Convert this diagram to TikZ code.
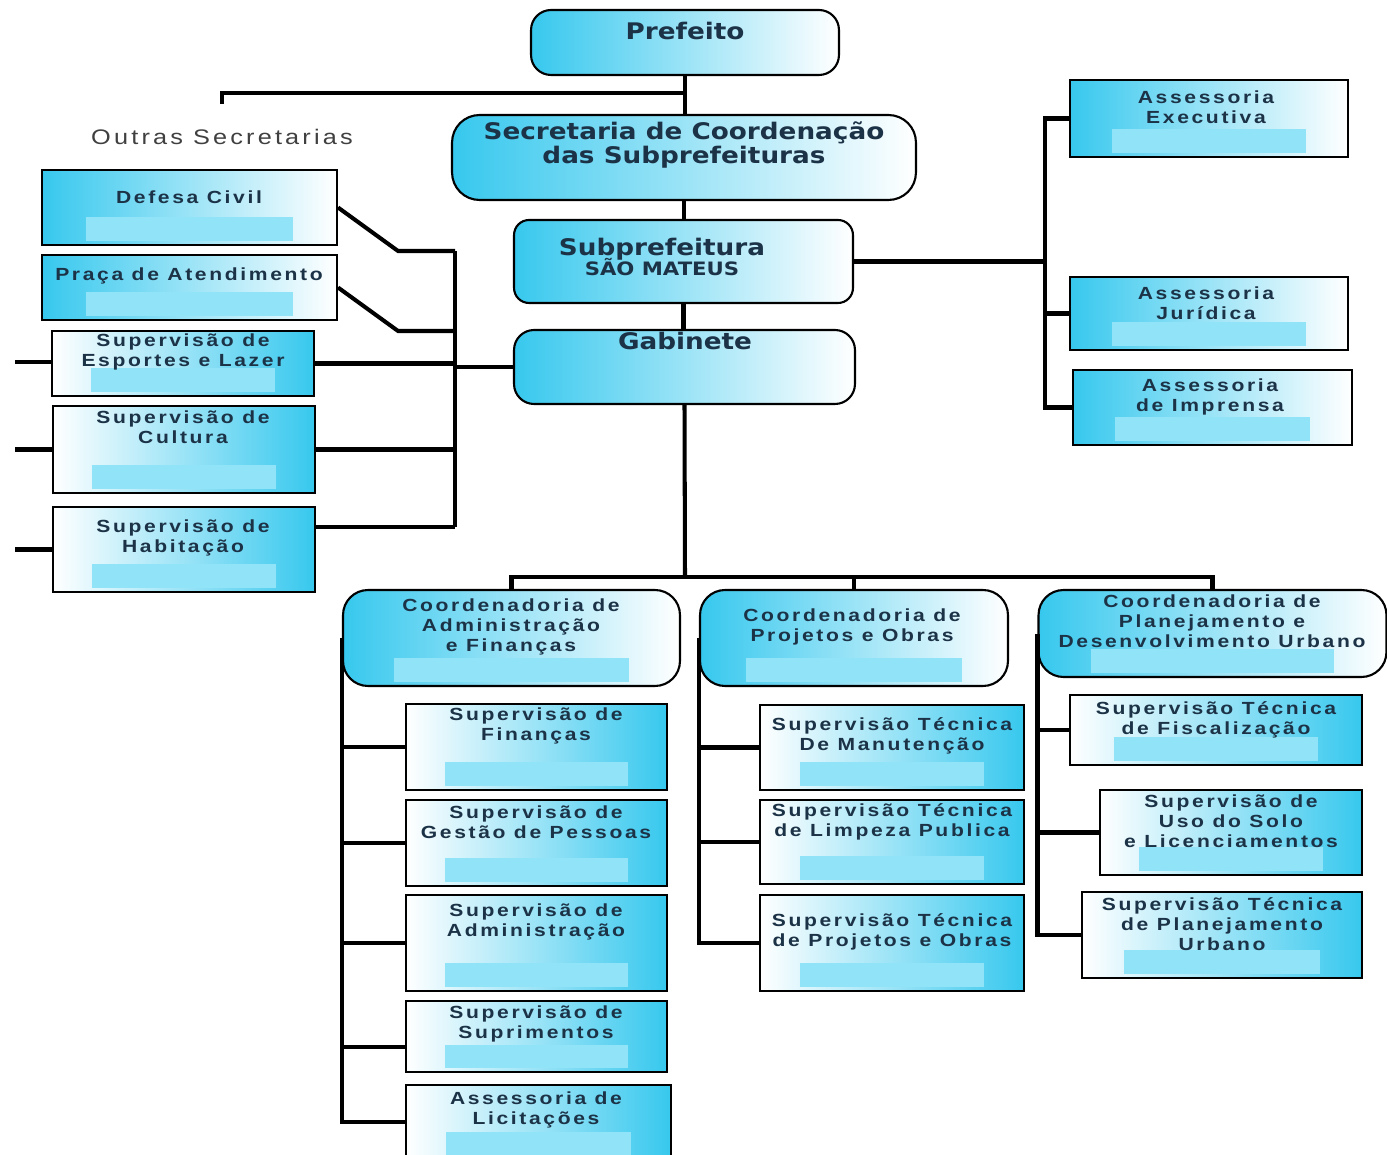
\documentclass[tikz,border=0pt]{standalone}
\usepackage{fontspec}
\setmainfont{DejaVu Sans}
\newfontfamily\headfont[FakeStretch=1.15]{DejaVu Sans}
\newfontfamily\unitfont[FakeStretch=1.2,LetterSpace=15]{Liberation Sans}
\usetikzlibrary{calc}

\definecolor{skycyan}{RGB}{55,200,238}
\definecolor{barcyan}{RGB}{145,228,247}
\definecolor{navy}{RGB}{28,50,70}

\tikzset{
  bar/.style={path picture={
    \fill[barcyan, sharp corners] ($(path picture bounding box.south west)!0.15!(path picture bounding box.south east)+(0,0.08cm)$)
      rectangle ($(path picture bounding box.south west)!0.85!(path picture bounding box.south east)+(0,0.55cm)$);}},
  topbox/.style={draw=black, line width=1.2pt, rounded corners=0.4cm, left color=skycyan, right color=white},
  coordbox/.style={topbox, rounded corners=0.5cm, bar},
  unitbox/.style={draw=black, line width=1.2pt, left color=white, right color=skycyan, bar},
  sidebox/.style={unitbox, left color=skycyan, right color=white},
  headtext/.style={font=\headfont\bfseries\fontsize{13}{14}\selectfont, text=navy, align=center},
  unittext/.style={font=\unitfont\bfseries\fontsize{10}{11.4}\selectfont, text=navy, align=center},
  link/.style={line width=2.3pt}
}

\begin{document}
\begin{tikzpicture}[x=0.02cm,y=-0.02cm]
  \useasboundingbox (0,0) rectangle (1387,1155);
  \fill[white] (0,0) rectangle (1387,1155);

  % main column
  \node[topbox, minimum width=6.16cm, minimum height=1.3cm] (pref) at (685,42.5) {};
  \node[topbox, rounded corners=0.55cm, minimum width=9.28cm, minimum height=1.7cm] (secr) at (684,157.5) {};
  \node[topbox, rounded corners=0.3cm, minimum width=6.78cm, minimum height=1.66cm] (subp) at (683.5,261.5) {};
  \node[topbox, minimum width=6.82cm, minimum height=1.48cm] (gab) at (684.5,367) {};

  % left units
  \node[sidebox, minimum width=5.9cm, minimum height=1.5cm] (defesa) at (189.5,207.5) {};
  \node[sidebox, minimum width=5.9cm, minimum height=1.3cm] (praca) at (189.5,287.5) {};
  \node[unitbox, minimum width=5.24cm, minimum height=1.3cm] (esportes) at (183,363.5) {};
  \node[unitbox, minimum width=5.24cm, minimum height=1.74cm] (cultura) at (184,449.5) {};
  \node[unitbox, minimum width=5.24cm, minimum height=1.7cm] (habit) at (184,549.5) {};

  % assessorias
  \node[sidebox, minimum width=5.56cm, minimum height=1.54cm] (exec) at (1209,118.5) {};
  \node[sidebox, minimum width=5.56cm, minimum height=1.46cm] (jurid) at (1209,313.5) {};
  \node[sidebox, minimum width=5.58cm, minimum height=1.5cm] (impr) at (1212.5,407.5) {};

  % coordenadorias
  \node[coordbox, minimum width=6.74cm, minimum height=1.92cm] (cadm) at (511.5,638) {};
  \node[coordbox, minimum width=6.16cm, minimum height=1.92cm] (cproj) at (854,638) {};
  \node[coordbox, minimum width=6.96cm, minimum height=1.74cm] (cplan) at (1212.5,633.5) {};

  % supervisoes
  \node[unitbox, minimum width=5.22cm, minimum height=1.72cm] (fin) at (536.5,747) {};
  \node[unitbox, minimum width=5.22cm, minimum height=1.72cm] (gest) at (536.5,843) {};
  \node[unitbox, minimum width=5.22cm, minimum height=1.92cm] (adm) at (536.5,943) {};
  \node[unitbox, minimum width=5.22cm, minimum height=1.42cm] (supr) at (536.5,1036.5) {};
  \node[unitbox, minimum width=5.3cm, minimum height=1.48cm] (licit) at (538.5,1122) {};
  \node[unitbox, minimum width=5.28cm, minimum height=1.7cm] (manut) at (892,747.5) {};
  \node[unitbox, minimum width=5.28cm, minimum height=1.68cm] (limp) at (892,842) {};
  \node[unitbox, minimum width=5.28cm, minimum height=1.92cm] (pobras) at (892,943) {};
  \node[unitbox, minimum width=5.84cm, minimum height=1.4cm] (fisc) at (1216,730) {};
  \node[unitbox, minimum width=5.24cm, minimum height=1.7cm] (solo) at (1231,832.5) {};
  \node[unitbox, minimum width=5.6cm, minimum height=1.72cm] (purb) at (1222,935) {};

  % texts
  \node[headtext] (pref-t) at (685,31) {Prefeito};
  \node[headtext] (secr-t) at (684,145) {Secretaria de Coordenação\\das Subprefeituras};
  \node[headtext, align=center] (subp-t) at (662,257) {Subprefeitura\\[-3pt]{\fontsize{10.5}{11}\selectfont SÃO MATEUS}};
  \node[headtext] (gab-t) at (685,341) {Gabinete};
  \node[font=\unitfont\fontsize{12}{14}\selectfont, text=black!75] (outras) at (222,137) {Outras Secretarias};

  \node[unittext] (defesa-t) at (189,197) {Defesa Civil};
  \node[unittext] (praca-t) at (189,276) {Praça de Atendimento};
  \node[unittext] (esportes-t) at (183,352) {Supervisão de\\Esportes e Lazer};
  \node[unittext] (cultura-t) at (183,427) {Supervisão de\\Cultura};
  \node[unittext] (habit-t) at (183,538) {Supervisão de\\Habitação};

  \node[unittext] (exec-t) at (1206,107) {Assessoria\\Executiva};
  \node[unittext] (jurid-t) at (1206,303) {Assessoria\\Jurídica};
  \node[unittext] (impr-t) at (1210,397) {Assessoria\\de Imprensa};

  \node[unittext] (cadm-t) at (511,627) {Coordenadoria de\\Administração\\e Finanças};
  \node[unittext] (cproj-t) at (852,627) {Coordenadoria de\\Projetos e Obras};
  \node[unittext] (cplan-t) at (1212,621) {Coordenadoria de\\Planejamento e\\Desenvolvimento Urbano};

  \node[unittext] (fin-t) at (536,726) {Supervisão de\\Finanças};
  \node[unittext] (gest-t) at (536,822) {Supervisão de\\Gestão de Pessoas};
  \node[unittext] (adm-t) at (536,922) {Supervisão de\\Administração};
  \node[unittext] (supr-t) at (536,1024) {Supervisão de\\Suprimentos};
  \node[unittext] (licit-t) at (536,1110) {Assessoria de\\Licitações};
  \node[unittext] (manut-t) at (892,736) {Supervisão Técnica\\De Manutenção};
  \node[unittext] (limp-t) at (892,822) {Supervisão Técnica\\de Limpeza Publica};
  \node[unittext] (pobras-t) at (892,932) {Supervisão Técnica\\de Projetos e Obras};
  \node[unittext] (fisc-t) at (1216,720) {Supervisão Técnica\\de Fiscalização};
  \node[unittext] (solo-t) at (1231,821) {Supervisão de\\Uso do Solo\\e Licenciamentos};
  \node[unittext] (purb-t) at (1222,924) {Supervisão Técnica\\de Planejamento\\Urbano};

  % links, main column
  \coordinate (outtick) at (222,104);
  \coordinate (bus) at (685,577);
  \draw[link] (pref.south) -- (pref.south |- secr.north);
  \draw[link] (outtick) |- (pref.south |- 0,93);
  \draw[link] (secr.south) -- (secr.south |- subp.north);
  \draw[link] (subp.south) -- (subp.south |- gab.north);
  \draw[link] (gab.south) -- (bus);
  \draw[link] (cadm.north) |- (bus) -| (cplan.north);
  \draw[link] (cproj.north) -- (cproj.north |- bus);

  % links, assessorias
  \coordinate (rbus) at (1045,263);
  \draw[link] (subp.east) -- (subp.east -| rbus);
  \draw[link] (exec.west) -| (rbus) |- (impr.west);
  \draw[link] (jurid.west) -- (jurid.west -| rbus);

  % links, left units
  \coordinate (ltop) at (455,251);
  \coordinate (lbot) at (455,527);
  \draw[link] (ltop) -- (lbot);
  \draw[link] (gab.west) -- (gab.west -| ltop);
  \draw[link] (defesa.east) -- ++(60,43.5) -- (ltop);
  \draw[link] (praca.east) -- ++(60,43.5) -- ++(58,0);
  \draw[link] (esportes.east) -- (esportes.east -| ltop);
  \draw[link] (cultura.east) -- (cultura.east -| ltop);
  \draw[link] (habit.east |- lbot) -- (lbot);
  \draw[link] ([yshift=0.03cm]esportes.west) -- ++(-36,0);
  \draw[link] (cultura.west) -- ++(-37,0);
  \draw[link] (habit.west) -- ++(-37,0);

  % links, coordenadorias
  \draw[link] (cadm.west) |- (licit.west);
  \draw[link] (fin.west) -- (fin.west -| cadm.west);
  \draw[link] (gest.west) -- (gest.west -| cadm.west);
  \draw[link] (adm.west) -- (adm.west -| cadm.west);
  \draw[link] ([yshift=-0.21cm]supr.west) -- ++(-65,0);
  \draw[link] (cproj.west) |- (pobras.west);
  \draw[link] (manut.west) -- (manut.west -| cproj.west);
  \draw[link] (limp.west) -- (limp.west -| cproj.west);
  \draw[link] (cplan.west) |- (purb.west);
  \draw[link] (fisc.west) -- (fisc.west -| cplan.west);
  \draw[link] (solo.west) -- (solo.west -| cplan.west);
\end{tikzpicture}
\end{document}
